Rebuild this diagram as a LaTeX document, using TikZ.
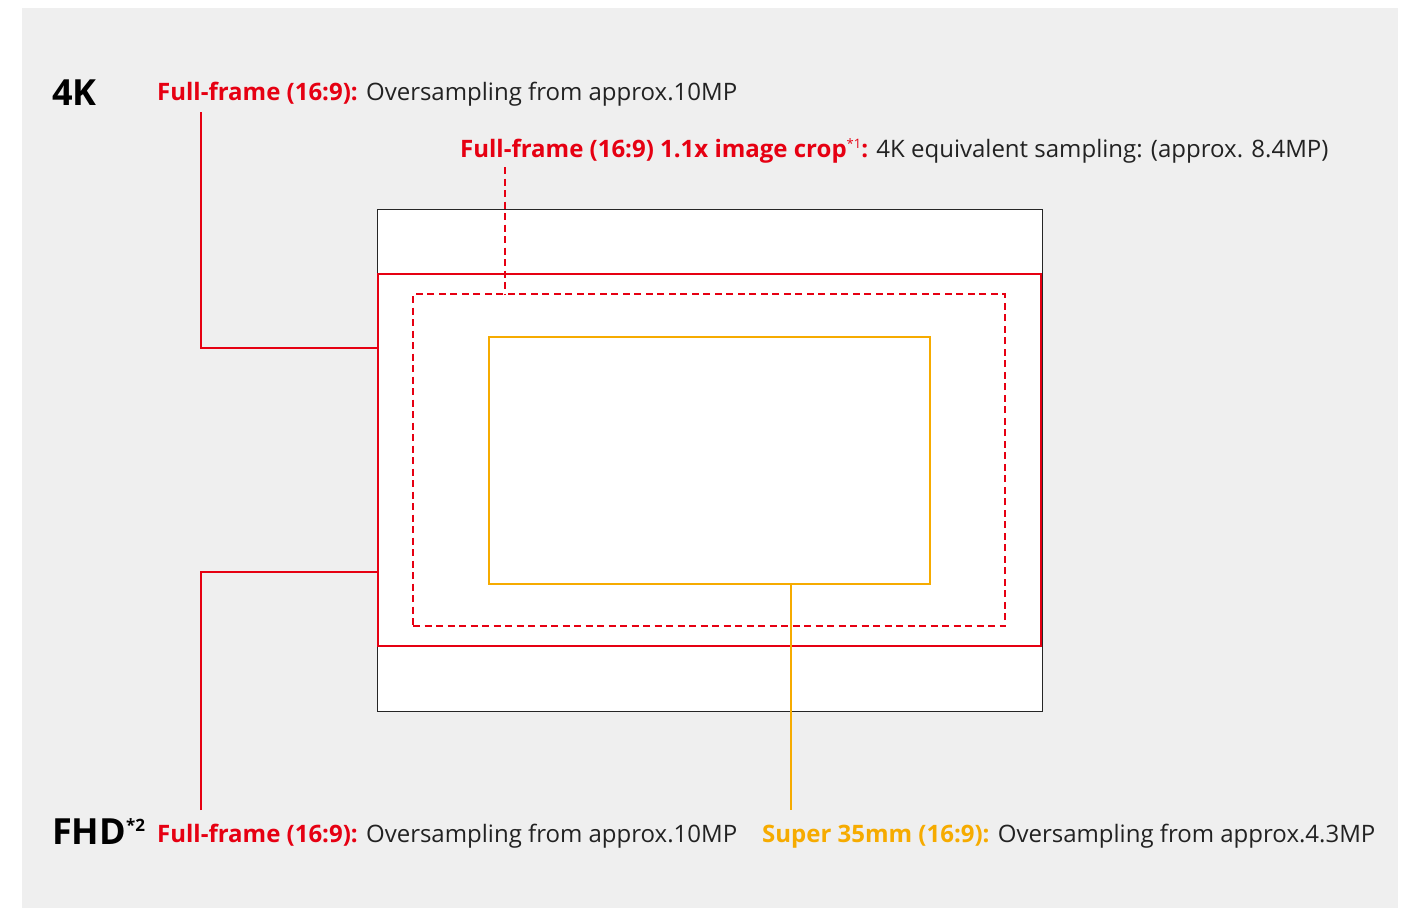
\documentclass[tikz,border=0pt]{standalone}
\usepackage{fontspec}
\setmainfont{Open Sans}
\definecolor{sred}{HTML}{E60012}
\definecolor{sorange}{HTML}{F6AB00}
\definecolor{bggray}{HTML}{EFEFEF}
\definecolor{txt}{HTML}{222222}
\newcommand{\supmark}[2]{\raisebox{#1}{\fontsize{13}{14}\selectfont #2}}
\begin{document}
\begin{tikzpicture}[x=1pt,y=-1pt,
  lbl/.style={anchor=base west, inner sep=0pt, font=\fontsize{24}{28}\selectfont, text=txt},
  hd/.style={anchor=base west, inner sep=0pt, font=\fontsize{36}{40}\selectfont\bfseries, text=black},
  boxbase/.style={inner sep=0pt, anchor=north west, outer sep=0pt},
  sensor/.style={boxbase, draw=black!85, fill=white, line width=1pt},
  redframe/.style={boxbase, draw=sred, line width=2pt},
  reddash/.style={boxbase, draw=sred, line width=2pt, dash pattern=on 7pt off 4.5pt},
  orframe/.style={boxbase, draw=sorange, line width=2pt},
  redline/.style={draw=sred, line width=2pt},
  reddashline/.style={draw=sred, line width=2pt, dash pattern=on 7pt off 4.5pt},
  orline/.style={draw=sorange, line width=2pt}
]
\useasboundingbox (0,0) rectangle (1410,910);
\fill[white] (0,0) rectangle (1410,910);
\fill[bggray] (22,8) rectangle (1398,908);

\node[sensor, minimum width=665pt, minimum height=502pt] (sensorbox) at (377,209) {};
\node[redframe, minimum width=663pt, minimum height=372pt] (ffbox) at (378,274) {};
\node[reddash, minimum width=592pt, minimum height=332pt] (cropbox) at (413,294) {};
\node[orframe, minimum width=441pt, minimum height=247pt] (s35box) at (489,337) {};

\node[hd] (h4k) at (52,105) {4K};
\node[lbl] (l4k) at (157,100) {\textcolor{sred}{\bfseries Full-frame (16:9):} Oversampling from approx.10MP};
\node[lbl] (lcrop) at (460,157) {\textcolor{sred}{\bfseries Full-frame (16:9) 1.1x image crop\supmark{9pt}{\mdseries *1}:} 4K equivalent sampling: (approx. 8.4MP)};
\node[hd] (hfhd) at (52,844) {FHD\supmark{13pt}{\fontsize{17}{18}\selectfont\bfseries *2}};
\node[lbl] (lfhd) at (157,842) {\textcolor{sred}{\bfseries Full-frame (16:9):} Oversampling from approx.10MP};
\node[lbl] (ls35) at (762,842) {\textcolor{sorange}{\bfseries Super 35mm (16:9):} Oversampling from approx.4.3MP};

\coordinate (t4k) at (201,112);
\coordinate (y4k) at (0,348);
\coordinate (tfhd) at (201,810);
\coordinate (yfhd) at (0,572);
\coordinate (tcrop) at (505,167);
\coordinate (ts35) at (791,810);

\draw[redline] (t4k) |- (ffbox.west |- y4k);
\draw[redline] (tfhd) |- (ffbox.west |- yfhd);
\draw[reddashline] (tcrop) -- (cropbox.north -| tcrop);
\draw[orline] (s35box.south -| ts35) -- (ts35);
\end{tikzpicture}
\end{document}
